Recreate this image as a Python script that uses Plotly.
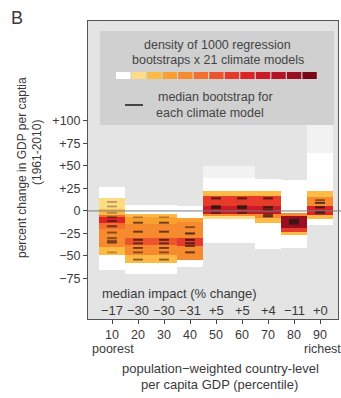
import plotly.graph_objects as go

# ---------------- data ----------------
percentiles = [10, 20, 30, 40, 50, 60, 70, 80, 90]
median_impact = [-17, -30, -30, -31, 5, 5, 4, -11, 0]

# density bands per percentile column: (top, bottom, density level 0..13); 0 = faint
bands = {
    10: [(27, 14, 1), (14, 2, 2), (2, -5, 3), (-5, -7, 6), (-7, -13, 9), (-13, -20, 6),
         (-20, -40, 5), (-40, -49, 3), (-49, -66, 1)],
    20: [(7, -3, 1), (-3, -7, 3), (-7, -14, 4), (-14, -30, 5), (-30, -38, 7), (-38, -49, 5),
         (-49, -58, 3), (-58, -70, 1)],
    30: [(7, -3, 1), (-3, -7, 3), (-7, -14, 4), (-14, -30, 5), (-30, -38, 7), (-38, -49, 5),
         (-49, -58, 3), (-58, -70, 1)],
    40: [(6, -8, 1), (-8, -12, 4), (-12, -30, 5), (-30, -39, 8), (-39, -54, 5), (-54, -62, 1)],
    50: [(50, 37, 0), (37, 22, 1), (22, 17, 3), (17, 5, 8), (5, -3, 10), (-3, -6, 5),
         (-6, -9, 2), (-9, -36, 1)],
    60: [(50, 37, 0), (37, 22, 1), (22, 17, 3), (17, 5, 8), (5, -3, 10), (-3, -6, 5),
         (-6, -9, 2), (-9, -36, 1)],
    70: [(36, 22, 1), (22, 17, 3), (17, 5, 8), (5, -3, 10), (-3, -8, 5), (-8, -13, 3),
         (-13, -42, 1)],
    80: [(34, -2, 1), (-2, -6, 5), (-6, -19, 12), (-19, -23, 8), (-23, -27, 3), (-27, -41, 1)],
    90: [(95, 64, 0), (64, 22, 1), (22, 16, 3), (16, 5, 5), (5, -4, 9), (-4, -9, 3),
         (-9, -16, 1)],
}

# median bootstrap of each of the 21 climate models, per column
model_medians = {
    10: [10, 5, -2, -7, -7, -11, -11, -11, -17, -17, -17, -24, -24, -30, -30, -33, -33, -35, -35, -35, -46],
    20: [-7, -13, -13, -13, -23, -23, -23, -32, -32, -32, -32, -36, -36, -36, -41, -41, -41, -46, -46, -54, -54],
    30: [-7, -13, -13, -13, -23, -23, -23, -32, -32, -32, -32, -36, -36, -36, -41, -41, -41, -46, -46, -54, -54],
    40: [-18, -18, -25, -25, -25, -25, -32, -32, -32, -32, -32, -36, -36, -36, -36, -39, -39, -39, -46, -46, -46],
    50: [14, 14, 14, 14, 5, 5, 5, 5, 5, 5, 4, 4, 4, 4, 3, 3, 3, 3, -2, -2, -2],
    60: [14, 14, 14, 14, 5, 5, 5, 5, 5, 5, 4, 4, 4, 4, 3, 3, 3, 3, -2, -2, -2],
    70: [14, 14, 14, 14, 4, 4, 4, 4, 4, 4, 1, 1, 1, 1, -4, -4, -4, -6, -6, -6, -6],
    80: [-9, -10, -10, -10, -11, -11, -11, -11, -11, -12, -12, -12, -12, -12, -13, -13, -13, -13, -14, -14, -15],
    90: [12, 12, 9, 9, 9, 9, 4, 4, 4, 4, 4, -1, -1, -1, -1, -1, -1, -2, -2, -2, -2],
}

ytick_vals = [100, 75, 50, 25, 0, -25, -50, -75]
ytick_text = ["+100", "+75", "+50", "+25", "0", "\u221225", "\u221250", "\u221275"]

level_colors = ["#f2f2f2", "#ffffff", "#fedc84", "#fdbb45", "#f9a031", "#f68a2e", "#f2702e",
                "#ec552c", "#e63a2a", "#dc2427", "#c91a28", "#b51427", "#9a0e22", "#780818"]

# ---------------- build grid ----------------
y_lo, y_hi = -80, 100
ys = [y + 0.5 for y in range(y_lo, y_hi)]
z = []
for yc in ys:
    row = []
    for p in percentiles:
        val = None
        for top, bot, lev in bands[p]:
            if bot <= yc < top:
                val = lev
        row.append(val)
    z.append(row)

n = len(level_colors)
cs = []
for i, c in enumerate(level_colors):
    cs.append([i / n, c])
    cs.append([(i + 1) / n, c])

fig = go.Figure()
fig.add_trace(go.Heatmap(x=percentiles, y=ys, z=z, colorscale=cs, zmin=-0.5, zmax=n - 0.5,
                         showscale=False, hoverinfo="skip"))

mx, my = [], []
for p in percentiles:
    for v in model_medians[p]:
        mx.append(p)
        my.append(v)
fig.add_trace(go.Scatter(x=mx, y=my, mode="markers",
                         marker=dict(symbol="line-ew", size=7,
                                     line=dict(width=1.8, color="rgba(60,25,20,0.35)")),
                         hoverinfo="skip", showlegend=False))

# ---------------- layout ----------------
W, H = 341, 398
L, R, T, B = 88, 3, 21, 79
pw, ph = W - L - R, H - T - B


def px(xp):
    return (xp - L) / pw


def py(yp):
    return (H - B - yp) / ph


FONT = "Liberation Sans, Arial, sans-serif"
TXT = "#3a3a3a"

shapes = []
# legend box
shapes.append(dict(type="rect", xref="paper", yref="paper", x0=px(100), x1=px(334), y0=py(125), y1=py(31),
                   fillcolor="#d0d0d0", line=dict(width=0), layer="above"))
# colour swatches
sx0, sx1 = 116, 318
sw = (sx1 - sx0) / (n - 1)
for i in range(1, n):
    shapes.append(dict(type="rect", xref="paper", yref="paper",
                       x0=px(sx0 + (i - 1) * sw), x1=px(sx0 + i * sw - 1.2),
                       y0=py(79), y1=py(72), fillcolor=level_colors[i], line=dict(width=0), layer="above"))
# legend dash
shapes.append(dict(type="line", xref="paper", yref="paper", x0=px(125), x1=px(143), y0=py(105), y1=py(105),
                   line=dict(color="#222", width=1.6), layer="above"))
# zero line
shapes.append(dict(type="line", xref="paper", yref="y", x0=0, x1=1.02, y0=0, y1=0,
                   line=dict(color="#7c7c7c", width=1), layer="above"))

ann = []


def txt(x, y, s, size=13, xa="center", ya="middle", angle=0, color=TXT):
    ann.append(dict(x=x, y=y, xref="paper", yref="paper", text=s, showarrow=False,
                    xanchor=xa, yanchor=ya, textangle=angle,
                    font=dict(size=size, color=color, family=FONT)))


txt(px(9), py(18), "B", size=18, xa="left")
txt(px(22), py(168), "percent change in GDP per captia", size=12, angle=-90)
txt(px(37), py(153), "(1961-2010)", size=12, angle=-90)
txt(px(217), py(45), "density of 1000 regression", size=12.5, color="#444")
txt(px(218), py(60), "bootstraps x 21 climate models", size=12.5, color="#444")
txt(px(156), py(97), "median bootstrap for", size=12.5, xa="left", color="#444")
txt(px(154), py(113), "each climate model", size=12.5, xa="left", color="#444")
txt(px(100), py(293), "median impact (% change)", size=13, xa="left")
for p, v in zip(percentiles, median_impact):
    s = ("+" + str(v)) if v >= 0 else ("\u2212" + str(-v))
    ann.append(dict(x=p, y=py(310), xref="x", yref="paper", text=s, showarrow=False,
                    xanchor="center", yanchor="middle", font=dict(size=13, color=TXT, family=FONT)))
txt(px(90), py(349), "poorest", size=12.5, xa="left")
txt(px(343), py(349), "richest", size=12.5, xa="right")
txt(px(220), py(368), "population\u2212weighted country-level", size=13)
txt(px(219), py(384), "per capita GDP (percentile)", size=13)

fig.update_layout(
    width=W, height=H, margin=dict(l=L, r=R, t=T, b=B, autoexpand=False),
    paper_bgcolor="white", plot_bgcolor="#e4e4e4",
    shapes=shapes, annotations=ann, showlegend=False,
    font=dict(family=FONT, size=13, color=TXT),
)
fig.update_xaxes(range=[0.77, 96.9], tickvals=percentiles, ticktext=[str(p) for p in percentiles],
                 ticks="outside", ticklen=4, tickcolor="#444", showgrid=False, zeroline=False,
                 showline=True, linecolor="#555", linewidth=1, mirror=True,
                 tickfont=dict(size=12.5, color=TXT, family=FONT))
fig.update_yaxes(range=[-120, 211], tickvals=ytick_vals, ticktext=ytick_text,
                 ticks="outside", ticklen=4, tickcolor="#444", showgrid=False, zeroline=False,
                 showline=True, linecolor="#555", linewidth=1, mirror=True,
                 tickfont=dict(size=12.5, color=TXT, family=FONT))

fig.write_html("out.html", config={"displayModeBar": False},
               post_script="document.body.style.margin='0';document.body.style.overflow='hidden';")
